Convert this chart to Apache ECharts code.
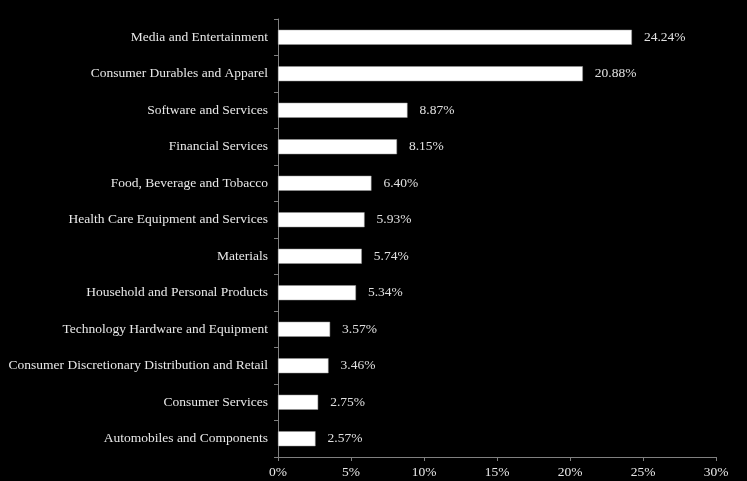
<!DOCTYPE html>
<html><head><meta charset="utf-8">
<script src="https://cdn.jsdelivr.net/npm/echarts@6/dist/echarts.min.js"></script>
<style>html,body{margin:0;padding:0;background:#000;}#c{width:747px;height:481px;}</style>
</head><body><div id="c"></div>
<script>
const categories = [
  "Media and Entertainment",
  "Consumer Durables and Apparel",
  "Software and Services",
  "Financial Services",
  "Food, Beverage and Tobacco",
  "Health Care Equipment and Services",
  "Materials",
  "Household and Personal Products",
  "Technology Hardware and Equipment",
  "Consumer Discretionary Distribution and Retail",
  "Consumer Services",
  "Automobiles and Components"
];
const values = [24.24, 20.88, 8.87, 8.15, 6.40, 5.93, 5.74, 5.34, 3.57, 3.46, 2.75, 2.57];
const xTicks = [0, 5, 10, 15, 20, 25, 30];

const chart = echarts.init(document.getElementById('c'));
const font = "'Liberation Serif', 'DejaVu Serif', serif";
chart.setOption({
  backgroundColor: '#000',
  animation: false,
  grid: {left: 278, right: 31, top: 19, bottom: 24, containLabel: false},
  xAxis: {
    type: 'value', min: xTicks[0], max: xTicks[xTicks.length-1], interval: 5,
    axisLine: {show: true, lineStyle: {color: '#808080', width: 1}},
    axisTick: {show: true, length: 4, lineStyle: {color: '#808080'}},
    splitLine: {show: false},
    axisLabel: {color: '#e8e8e8', fontFamily: font, fontSize: 13.5, margin: 8, formatter: v => v + '%'}
  },
  yAxis: {
    type: 'category', inverse: true, data: categories,
    axisLine: {show: true, lineStyle: {color: '#808080', width: 1}},
    axisTick: {show: true, length: 4, lineStyle: {color: '#808080'}},
    axisLabel: {color: '#e8e8e8', fontFamily: font, fontSize: 13.5, margin: 10}
  },
  series: [{
    type: 'bar', data: values, barWidth: 15,
    itemStyle: {color: '#ffffff', borderColor: '#999', borderWidth: 0.5},
    label: {show: true, position: 'right', distance: 12, color: '#e0e0e0', fontFamily: font, fontSize: 13.5,
      formatter: p => p.value.toFixed(2) + '%'}
  }]
});
</script></body></html>
